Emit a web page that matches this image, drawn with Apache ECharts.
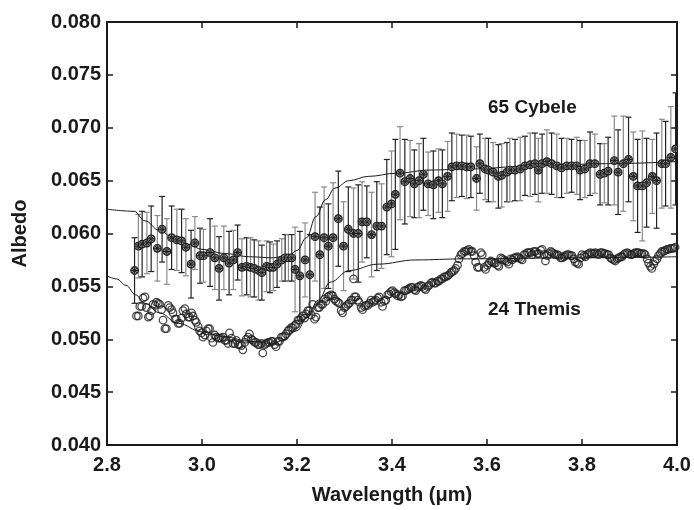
<!DOCTYPE html>
<html>
<head>
<meta charset="utf-8">
<script src="https://cdn.jsdelivr.net/npm/echarts@6/dist/echarts.min.js"></script>
<style>
html,body{margin:0;padding:0;background:#fff;}
#chart{width:694px;height:510px;}
</style>
</head>
<body>
<div id="chart"></div>
<script>
// ---- axis ticks ----
const xTicks = [2.8, 3.0, 3.2, 3.4, 3.6, 3.8, 4.0];
const yTicks = [0.040, 0.045, 0.050, 0.055, 0.060, 0.065, 0.070, 0.075, 0.080];

// ---- 65 Cybele: wavelength (um), albedo, 1-sigma error ----
const cybeleWl = [
2.858,2.866,2.874,2.884,2.893,2.906,2.916,2.926,2.936,2.947,
2.957,2.966,2.977,2.985,2.996,3.003,3.017,3.027,3.036,3.046,
3.057,3.066,3.075,3.084,3.094,3.102,3.110,3.119,3.126,3.136,
3.143,3.150,3.158,3.168,3.175,3.182,3.189,3.196,3.206,3.217,
3.227,3.238,3.248,3.257,3.266,3.276,3.287,3.298,3.308,3.319,
3.329,3.337,3.347,3.357,3.368,3.378,3.389,3.399,3.407,3.417,
3.427,3.438,3.447,3.457,3.466,3.476,3.487,3.498,3.506,3.517,
3.526,3.536,3.547,3.557,3.566,3.578,3.585,3.596,3.603,3.613,
3.624,3.631,3.642,3.648,3.659,3.670,3.680,3.691,3.701,3.708,
3.716,3.726,3.736,3.747,3.757,3.768,3.778,3.789,3.796,3.806,
3.817,3.827,3.838,3.847,3.855,3.868,3.876,3.887,3.898,3.908,
3.917,3.927,3.936,3.948,3.957,3.968,3.976,3.987,3.997];
const cybeleAlb = [
0.0565,0.0588,0.0590,0.0591,0.0595,0.0586,0.0604,0.0583,0.0596,0.0594,
0.0593,0.0587,0.0571,0.0591,0.0579,0.0579,0.0582,0.0577,0.0567,0.0577,
0.0572,0.0575,0.0582,0.0568,0.0569,0.0568,0.0567,0.0565,0.0563,0.0569,
0.0568,0.0568,0.0571,0.0575,0.0577,0.0577,0.0577,0.0566,0.0560,0.0575,
0.0561,0.0597,0.0580,0.0596,0.0588,0.0596,0.0614,0.0588,0.0604,0.0600,
0.0600,0.0611,0.0611,0.0599,0.0607,0.0607,0.0625,0.0628,0.0637,0.0657,
0.0649,0.0652,0.0647,0.0650,0.0656,0.0647,0.0646,0.0650,0.0647,0.0654,
0.0663,0.0664,0.0664,0.0663,0.0663,0.0652,0.0666,0.0661,0.0660,0.0658,
0.0654,0.0655,0.0658,0.0660,0.0660,0.0661,0.0664,0.0665,0.0666,0.0660,
0.0666,0.0668,0.0666,0.0664,0.0662,0.0664,0.0664,0.0664,0.0660,0.0661,
0.0666,0.0666,0.0656,0.0657,0.0659,0.0669,0.0658,0.0666,0.0670,0.0654,
0.0645,0.0645,0.0648,0.0654,0.0650,0.0666,0.0666,0.0672,0.0680];
const cybeleErr = [
0.0031,0.0030,0.0031,0.0029,0.0031,0.0031,0.0031,0.0031,0.0030,0.0029,
0.0030,0.0027,0.0032,0.0025,0.0026,0.0025,0.0032,0.0030,0.0030,0.0030,
0.0030,0.0028,0.0026,0.0027,0.0027,0.0028,0.0027,0.0028,0.0026,0.0024,
0.0024,0.0022,0.0022,0.0020,0.0022,0.0022,0.0022,0.0040,0.0042,0.0035,
0.0038,0.0042,0.0045,0.0048,0.0040,0.0052,0.0045,0.0042,0.0040,0.0043,
0.0046,0.0038,0.0034,0.0040,0.0042,0.0040,0.0045,0.0050,0.0052,0.0044,
0.0040,0.0036,0.0032,0.0035,0.0034,0.0030,0.0032,0.0030,0.0032,0.0033,
0.0032,0.0030,0.0029,0.0030,0.0029,0.0030,0.0028,0.0029,0.0030,0.0028,
0.0030,0.0030,0.0028,0.0030,0.0029,0.0030,0.0028,0.0030,0.0029,0.0030,
0.0028,0.0030,0.0029,0.0030,0.0028,0.0026,0.0025,0.0027,0.0028,0.0027,
0.0030,0.0028,0.0029,0.0028,0.0032,0.0042,0.0040,0.0045,0.0040,0.0042,
0.0044,0.0052,0.0042,0.0035,0.0045,0.0042,0.0040,0.0048,0.0053];

// ---- 24 Themis: wavelength (um), albedo ----
const themisWl = [
2.862,2.869,2.876,2.883,2.890,2.897,2.904,2.911,2.918,2.925,
2.932,2.939,2.946,2.953,2.960,2.967,2.974,2.981,2.988,2.995,
3.002,3.009,3.016,3.023,3.030,3.037,3.044,3.051,3.058,3.065,
3.072,3.079,3.086,3.093,3.100,3.107,3.114,3.121,3.128,3.135,
3.142,3.149,3.156,3.163,3.170,3.177,3.184,3.191,3.198,3.205,
3.212,3.219,3.226,3.233,3.240,3.247,3.254,3.261,3.268,3.275,
3.282,3.289,3.296,3.303,3.310,3.317,3.324,3.331,3.338,3.345,
3.352,3.359,3.366,3.373,3.380,3.387,3.394,3.401,3.408,3.415,
3.422,3.429,3.436,3.443,3.450,3.457,3.464,3.471,3.478,3.485,
3.492,3.499,3.506,3.513,3.520,3.527,3.534,3.541,3.548,3.555,
3.562,3.569,3.576,3.583,3.590,3.597,3.604,3.611,3.618,3.625,
3.632,3.639,3.646,3.653,3.660,3.667,3.674,3.681,3.688,3.695,
3.702,3.709,3.716,3.723,3.730,3.737,3.744,3.751,3.758,3.765,
3.772,3.779,3.786,3.793,3.800,3.807,3.814,3.821,3.828,3.835,
3.842,3.849,3.856,3.863,3.870,3.877,3.884,3.891,3.898,3.905,
3.912,3.919,3.926,3.933,3.940,3.947,3.954,3.961,3.968,3.975,
3.982,3.989,3.996,3.319];
const themisAlb = [
0.0522,0.0531,0.0539,0.0530,0.0522,0.0533,0.0535,0.0533,0.0518,0.0510,
0.0530,0.0525,0.0519,0.0515,0.0527,0.0524,0.0521,0.0522,0.0516,0.0508,
0.0502,0.0508,0.0510,0.0497,0.0502,0.0501,0.0502,0.0499,0.0506,0.0496,
0.0499,0.0495,0.0490,0.0500,0.0505,0.0499,0.0497,0.0495,0.0487,0.0496,
0.0497,0.0498,0.0493,0.0498,0.0502,0.0505,0.0509,0.0511,0.0514,0.0518,
0.0522,0.0524,0.0527,0.0533,0.0521,0.0530,0.0533,0.0536,0.0541,0.0541,
0.0536,0.0534,0.0525,0.0531,0.0534,0.0537,0.0540,0.0535,0.0528,0.0532,
0.0534,0.0535,0.0537,0.0540,0.0531,0.0537,0.0543,0.0546,0.0543,0.0542,
0.0541,0.0546,0.0548,0.0549,0.0546,0.0550,0.0550,0.0547,0.0551,0.0554,
0.0553,0.0555,0.0557,0.0559,0.0561,0.0564,0.0567,0.0576,0.0581,0.0583,
0.0585,0.0583,0.0573,0.0568,0.0580,0.0566,0.0572,0.0573,0.0572,0.0569,
0.0576,0.0574,0.0571,0.0575,0.0577,0.0577,0.0575,0.0580,0.0582,0.0580,
0.0583,0.0581,0.0585,0.0574,0.0581,0.0582,0.0580,0.0579,0.0577,0.0579,
0.0580,0.0579,0.0573,0.0571,0.0580,0.0578,0.0581,0.0581,0.0582,0.0580,
0.0582,0.0581,0.0580,0.0576,0.0574,0.0577,0.0578,0.0581,0.0581,0.0580,
0.0582,0.0582,0.0581,0.0580,0.0572,0.0567,0.0574,0.0579,0.0583,0.0584,
0.0585,0.0586,0.0587,0.0557];
// interleaved Themis spectrum samples (second half-step set)
const themisWl2 = [
2.866,2.873,2.880,2.887,2.894,2.901,2.908,2.915,2.922,2.929,
2.936,2.943,2.950,2.957,2.964,2.971,2.978,2.985,2.992,2.999,
3.006,3.013,3.020,3.027,3.034,3.041,3.048,3.055,3.062,3.069,
3.076,3.083,3.090,3.097,3.104,3.111,3.118,3.125,3.132,3.139,
3.146,3.153,3.160,3.167,3.174,3.181,3.188,3.195,3.202,3.209,
3.216,3.223,3.230,3.237,3.244,3.251,3.258,3.265,3.272,3.279,
3.286,3.293,3.300,3.307,3.314,3.321,3.328,3.335,3.342,3.349,
3.356,3.363,3.370,3.377,3.384,3.391,3.398,3.405,3.412,3.419,
3.426,3.433,3.440,3.447,3.454,3.461,3.468,3.475,3.482,3.489,
3.496,3.503,3.510,3.517,3.524,3.531,3.538,3.545,3.552,3.559,
3.566,3.573,3.580,3.587,3.594,3.601,3.608,3.615,3.622,3.629,
3.636,3.643,3.650,3.657,3.664,3.671,3.678,3.685,3.692,3.699,
3.706,3.713,3.720,3.727,3.734,3.741,3.748,3.755,3.762,3.769,
3.776,3.783,3.790,3.797,3.804,3.811,3.818,3.825,3.832,3.839,
3.846,3.853,3.860,3.867,3.874,3.881,3.888,3.895,3.902,3.909,
3.916,3.923,3.930,3.937,3.944,3.951,3.958,3.965,3.972,3.979,
3.986,3.993];
const themisAlb2 = [
0.0522,0.0531,0.0540,0.0521,0.0527,0.0532,0.0534,0.0528,0.0510,0.0532,
0.0528,0.0519,0.0515,0.0520,0.0529,0.0521,0.0525,0.0518,0.0512,0.0506,
0.0504,0.0510,0.0501,0.0504,0.0501,0.0501,0.0499,0.0496,0.0501,0.0496,
0.0495,0.0494,0.0497,0.0502,0.0500,0.0497,0.0495,0.0496,0.0495,0.0497,
0.0498,0.0495,0.0498,0.0502,0.0503,0.0508,0.0511,0.0513,0.0518,0.0520,
0.0520,0.0527,0.0523,0.0519,0.0530,0.0533,0.0538,0.0540,0.0542,0.0538,
0.0535,0.0527,0.0530,0.0533,0.0537,0.0540,0.0537,0.0530,0.0531,0.0532,
0.0537,0.0536,0.0539,0.0535,0.0536,0.0542,0.0545,0.0544,0.0541,0.0540,
0.0546,0.0547,0.0549,0.0547,0.0549,0.0551,0.0548,0.0550,0.0553,0.0553,
0.0555,0.0557,0.0559,0.0560,0.0563,0.0565,0.0570,0.0580,0.0583,0.0584,
0.0583,0.0579,0.0568,0.0582,0.0568,0.0570,0.0574,0.0572,0.0570,0.0577,
0.0575,0.0573,0.0576,0.0577,0.0578,0.0576,0.0580,0.0582,0.0582,0.0583,
0.0581,0.0584,0.0580,0.0579,0.0583,0.0581,0.0580,0.0577,0.0578,0.0580,
0.0579,0.0576,0.0572,0.0577,0.0579,0.0580,0.0582,0.0581,0.0581,0.0582,
0.0581,0.0580,0.0577,0.0575,0.0576,0.0578,0.0580,0.0582,0.0580,0.0581,
0.0582,0.0581,0.0581,0.0576,0.0569,0.0571,0.0576,0.0581,0.0583,0.0585,
0.0586,0.0586];

// ---- model fit curves ----
const cybeleFitWl  = [2.80,2.857,2.88,2.91,2.94,2.97,3.00,3.05,3.10,3.15,3.185,3.20,3.22,3.24,3.26,3.28,3.31,3.35,3.41,3.48,3.56,3.70,3.85,4.00];
const cybeleFitAlb = [0.0623,0.0621,0.0612,0.0603,0.0596,0.0590,0.0585,0.0581,0.0578,0.0577,0.0580,0.0584,0.0596,0.0616,0.0632,0.0643,0.0650,0.0654,0.0657,0.0660,0.0661,0.0664,0.0666,0.0668];
const themisFitWl  = [2.80,2.82,2.84,2.86,2.88,2.91,2.95,3.00,3.05,3.10,3.15,3.17,3.20,3.22,3.245,3.27,3.31,3.37,3.45,3.55,3.80,4.00];
const themisFitAlb = [0.0560,0.0557,0.0551,0.0542,0.0534,0.0525,0.0515,0.0507,0.0502,0.0498,0.0496,0.0499,0.0508,0.0520,0.0537,0.0554,0.0565,0.0571,0.0575,0.0576,0.0577,0.0578];

const FONT = '"Liberation Sans", Arial, Helvetica, sans-serif';
const INK = '#1a1a1a';

const cybeleData = cybeleWl.map((w, i) => [w, cybeleAlb[i], cybeleErr[i]]);
const themisData = themisWl.map((w, i) => [w, themisAlb[i]])
  .concat(themisWl2.map((w, i) => [w, themisAlb2[i]]));
const pairs = (a, b) => a.map((v, i) => [v, b[i]]);

const chart = echarts.init(document.getElementById('chart'), null, {renderer: 'canvas'});

const axisCommon = {
  type: 'value',
  axisLine: {show: true, onZero: false, lineStyle: {color: INK, width: 2}},
  axisTick: {show: true, inside: true, length: 6, lineStyle: {color: INK, width: 1.5}},
  splitLine: {show: false}
};

chart.setOption({
  animation: false,
  backgroundColor: '#ffffff',
  grid: {left: 107, right: 17, top: 22, bottom: 61, containLabel: false},
  xAxis: [
    Object.assign({}, axisCommon, {
      min: xTicks[0], max: xTicks[xTicks.length - 1], interval: 0.2, position: 'bottom',
      axisLabel: {formatter: v => v.toFixed(1), fontSize: 20, fontWeight: 'bold', color: INK, fontFamily: FONT, margin: 10},
      name: 'Wavelength (\u03bcm)', nameLocation: 'middle', nameGap: 40,
      nameTextStyle: {fontSize: 20, fontWeight: 'bold', color: INK, fontFamily: FONT}
    }),
    Object.assign({}, axisCommon, {
      min: xTicks[0], max: xTicks[xTicks.length - 1], interval: 0.2, position: 'top',
      axisLabel: {show: false}
    })
  ],
  yAxis: [
    Object.assign({}, axisCommon, {
      min: yTicks[0], max: yTicks[yTicks.length - 1], interval: 0.005, position: 'left',
      axisLabel: {formatter: v => v.toFixed(3), fontSize: 20, fontWeight: 'bold', color: INK, fontFamily: FONT, margin: 6},
      name: 'Albedo', nameLocation: 'middle', nameGap: 77, nameRotate: 90,
      nameTextStyle: {fontSize: 20, fontWeight: 'bold', color: INK, fontFamily: FONT}
    }),
    Object.assign({}, axisCommon, {
      min: yTicks[0], max: yTicks[yTicks.length - 1], interval: 0.005, position: 'right',
      axisLabel: {show: false}
    })
  ],
  series: [
    { // error bars for 65 Cybele
      type: 'custom', name: 'cybeleErr', xAxisIndex: 0, yAxisIndex: 0, clip: true, z: 2,
      data: cybeleData,
      encode: {x: 0, y: 1},
      renderItem: function (params, api) {
        const x = api.value(0), y = api.value(1), e = api.value(2);
        const top = api.coord([x, y + e]);
        const bot = api.coord([x, y - e]);
        const col = params.dataIndex % 2 ? '#8a8a8a' : '#222222';
        const cw = 3;
        return {
          type: 'group',
          children: [
            {type: 'line', shape: {x1: top[0], y1: top[1], x2: bot[0], y2: bot[1]}, style: {stroke: col, lineWidth: 1.2}},
            {type: 'line', shape: {x1: top[0] - cw, y1: top[1], x2: top[0] + cw, y2: top[1]}, style: {stroke: col, lineWidth: 1.2}},
            {type: 'line', shape: {x1: bot[0] - cw, y1: bot[1], x2: bot[0] + cw, y2: bot[1]}, style: {stroke: col, lineWidth: 1.2}}
          ]
        };
      }
    },
    { // model fit, Cybele
      type: 'line', name: 'cybeleFit', data: pairs(cybeleFitWl, cybeleFitAlb),
      showSymbol: false, symbol: 'none', smooth: 0.4, smoothMonotone: 'x',
      lineStyle: {color: INK, width: 1}, z: 3
    },
    { // model fit, Themis
      type: 'line', name: 'themisFit', data: pairs(themisFitWl, themisFitAlb),
      showSymbol: false, symbol: 'none', smooth: 0.4, smoothMonotone: 'x',
      lineStyle: {color: INK, width: 1}, z: 3
    },
    { // 24 Themis points (open circles)
      type: 'scatter', name: 'themis', data: themisData,
      symbol: 'circle', symbolSize: 7.5,
      itemStyle: {color: 'rgba(255,255,255,0)', borderColor: '#1e1e1e', borderWidth: 1.3},
      z: 4
    },
    { // 65 Cybele points (circled asterisk)
      type: 'custom', name: 'cybele', clip: true, z: 5,
      data: cybeleData,
      encode: {x: 0, y: 1},
      renderItem: function (params, api) {
        const p = api.coord([api.value(0), api.value(1)]);
        const r = 3.8, d = 2.5;
        const st = {stroke: '#222', lineWidth: 1};
        return {
          type: 'group',
          children: [
            {type: 'circle', shape: {cx: p[0], cy: p[1], r: r}, style: {fill: '#8c8c8c', stroke: '#1e1e1e', lineWidth: 1.2}},
            {type: 'line', shape: {x1: p[0] - r, y1: p[1], x2: p[0] + r, y2: p[1]}, style: st},
            {type: 'line', shape: {x1: p[0], y1: p[1] - r, x2: p[0], y2: p[1] + r}, style: st},
            {type: 'line', shape: {x1: p[0] - d, y1: p[1] - d, x2: p[0] + d, y2: p[1] + d}, style: st},
            {type: 'line', shape: {x1: p[0] - d, y1: p[1] + d, x2: p[0] + d, y2: p[1] - d}, style: st}
          ]
        };
      }
    }
  ],
  graphic: [
    {type: 'text', left: 488, top: 98, style: {text: '65 Cybele', fontSize: 19, fontWeight: 'bold', fill: INK, fontFamily: FONT}},
    {type: 'text', left: 488, top: 300, style: {text: '24 Themis', fontSize: 19, fontWeight: 'bold', fill: INK, fontFamily: FONT}}
  ]
});
</script>
</body>
</html>
